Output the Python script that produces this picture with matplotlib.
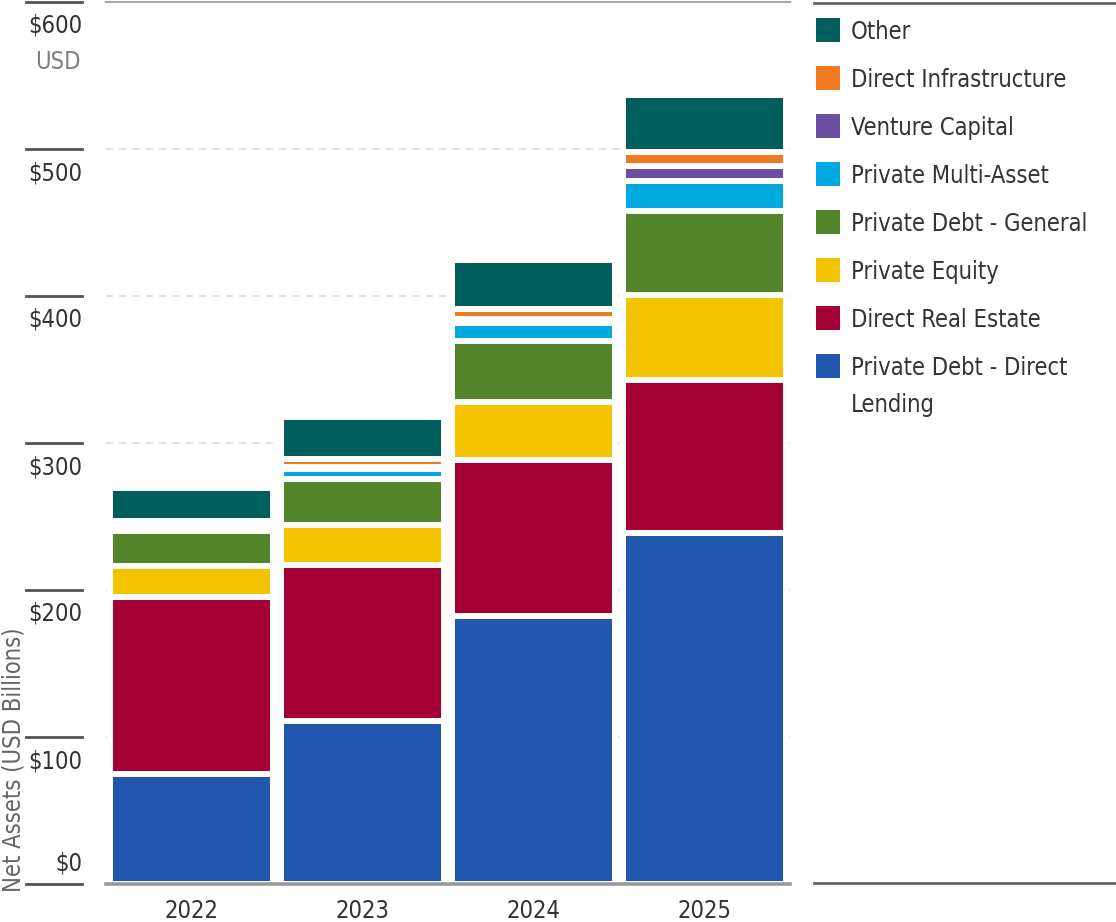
import matplotlib.pyplot as plt
from matplotlib import font_manager as fm
from matplotlib.lines import Line2D
from matplotlib.patches import Rectangle
from matplotlib.transforms import blended_transform_factory

# prefer a condensed face when one is installed
narrow = fm.findfont(fm.FontProperties(family='DejaVu Sans', stretch='condensed'))
if 'Condensed' in narrow:
    plt.rcParams['font.family'] = ['DejaVu Sans']
    plt.rcParams['font.stretch'] = 'condensed'
    fs = 17
else:
    plt.rcParams['font.family'] = ['Liberation Sans', 'DejaVu Sans']
    fs = 16.5

W, H = 1116, 922

years = ['2022', '2023', '2024', '2025']

# stack order, bottom to top
categories = ['Private Debt - Direct\nLending', 'Direct Real Estate', 'Private Equity',
              'Private Debt - General', 'Private Multi-Asset', 'Venture Capital',
              'Direct Infrastructure', 'Other']
colors = ['#2157ae', '#a30033', '#f5c400', '#53862a', '#00a9e0', '#6b4fa0',
          '#f07a22', '#005f5c']

# net assets, USD billions
direct_lending = [74.8, 110.7, 182.3, 238.9]
real_estate = [120.4, 106.3, 105.8, 104.2]
private_equity = [21.1, 27.0, 39.6, 57.3]
debt_general = [23.6, 31.7, 41.5, 57.1]
multi_asset = [3.5, 6.6, 12.2, 20.4]
venture = [1.3, 1.6, 2.9, 10.7]
infrastructure = [2.0, 5.0, 7.0, 9.5]
other = [22.6, 28.9, 33.4, 38.5]

series = [direct_lending, real_estate, private_equity, debt_general,
          multi_asset, venture, infrastructure, other]

yticks = [0, 100, 200, 300, 400, 500, 600]
ytick_labels = ['$0', '$100', '$200', '$300', '$400', '$500', '$600']

txt = '#333333'

fig = plt.figure(figsize=(W / 100, H / 100), dpi=100)
ax = fig.add_axes([106 / W, 1 - 884 / H, 684 / W, 882 / H])

x = range(len(years))
bottom = [0.0] * len(years)
for vals, col in zip(series, colors):
    ax.bar(x, vals, width=0.95, bottom=bottom, color=col,
           edgecolor='white', linewidth=4.3, zorder=2)
    bottom = [b + v for b, v in zip(bottom, vals)]

ax.set_xlim(-0.5, 3.5)
ax.set_ylim(0, 600)
for s in ax.spines.values():
    s.set_visible(False)

for v in yticks[1:-1]:
    ax.axhline(v, color='#dadada', lw=1.2, ls=(0, (4, 4)), zorder=0)
ax.axhline(600, color='#a8a8a8', lw=1.5, zorder=1, clip_on=False)
ax.axhline(0, color='#999999', lw=2.6, zorder=5, clip_on=False)

ax.set_yticks([])
ax.set_xticks(list(x), years)
ax.tick_params(axis='x', length=0, pad=11, labelsize=fs, labelcolor=txt)

# y scale: short rules at the left with labels beneath
blend = blended_transform_factory(fig.transFigure, ax.transData)
for v, lab in zip(yticks, ytick_labels):
    ax.add_line(Line2D([26 / W, 82 / W], [v, v], transform=blend,
                       color='#555555', lw=2, clip_on=False))
    dy = 21 if v == 0 else -24
    ax.annotate(lab, xy=(82 / W, v), xycoords=blend, xytext=(0, dy),
                textcoords='offset pixels', ha='right', va='center',
                fontsize=fs, color=txt, annotation_clip=False)
fig.text(81 / W, 1 - 62 / H, 'USD', ha='right', va='center',
         fontsize=fs, color='#808080')

fig.text(1 / W, 1 - 760 / H, 'Net Assets (USD Billions)', rotation=90,
         ha='left', va='center', fontsize=fs, color='#666666')

# legend panel
for yy in (3, 883):
    fig.add_artist(Line2D([814 / W, 1], [1 - yy / H] * 2, color='#666666', lw=2))
for i, (lab, col) in enumerate(zip(categories[::-1], colors[::-1])):
    yc = 30 + 48 * i
    fig.add_artist(Rectangle((816 / W, 1 - (yc + 12) / H), 24 / W, 24 / H,
                             facecolor=col, edgecolor='none'))
    fig.text(851 / W, 1 - (yc - 10) / H, lab, ha='left', va='top',
             fontsize=fs, color=txt, linespacing=1.7)

fig.savefig('out.png', dpi=100)
